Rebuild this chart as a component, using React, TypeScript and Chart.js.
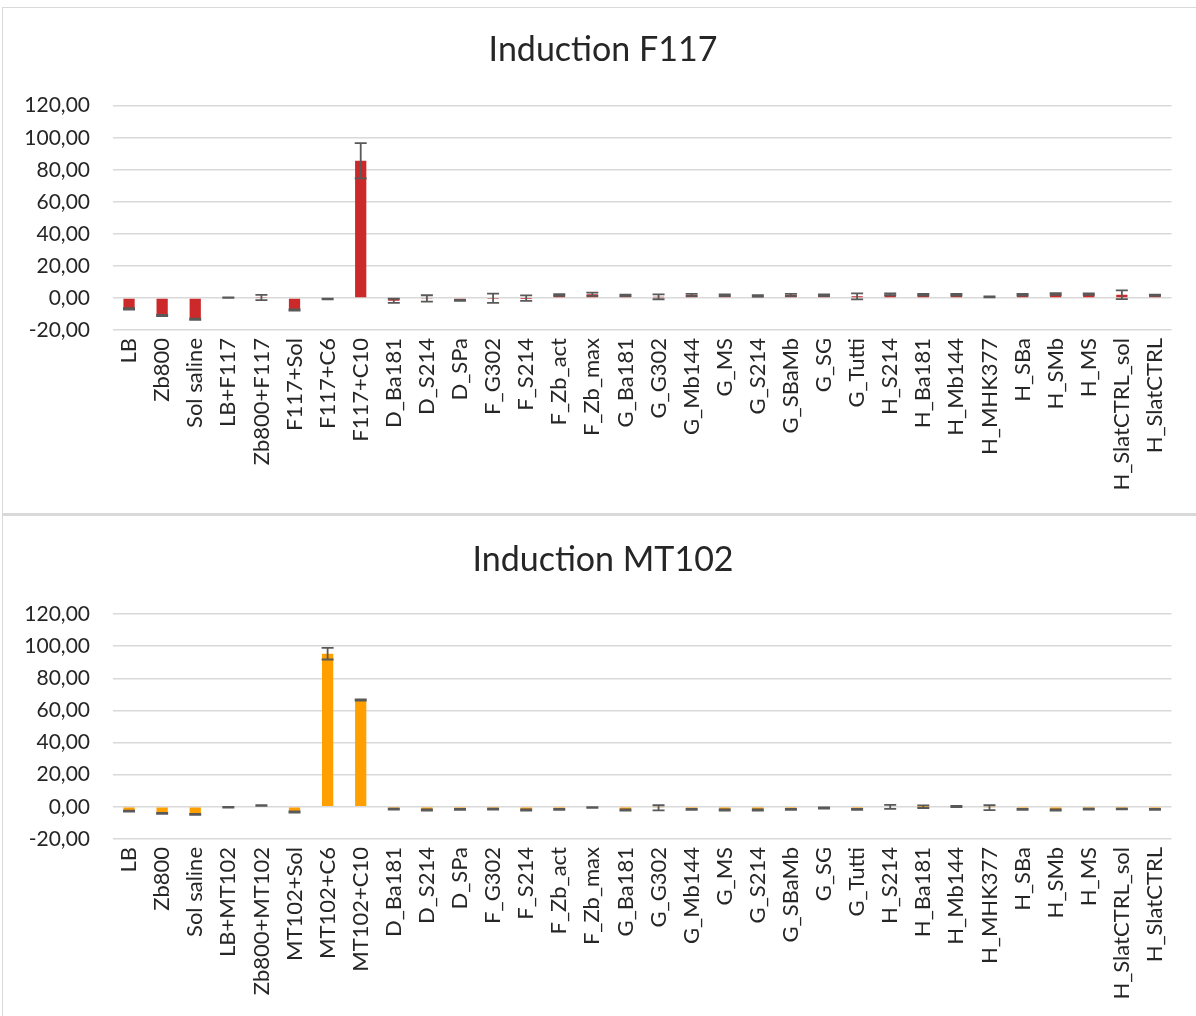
import React, { useEffect, useRef } from 'react';
import { Chart, registerables } from 'chart.js';

Chart.register(...registerables);

const titleF117 = 'Induction F117';
const titleMT102 = 'Induction MT102';

const commonCategories = [
  'D_Ba181', 'D_S214', 'D_SPa', 'F_G302', 'F_S214', 'F_Zb_act', 'F_Zb_max',
  'G_Ba181', 'G_G302', 'G_Mb144', 'G_MS', 'G_S214', 'G_SBaMb', 'G_SG', 'G_Tutti',
  'H_S214', 'H_Ba181', 'H_Mb144', 'H_MHK377', 'H_SBa', 'H_SMb', 'H_MS',
  'H_SlatCTRL_sol', 'H_SlatCTRL',
];

const categoriesF117 = [
  'LB', 'Zb800', 'Sol saline', 'LB+F117', 'Zb800+F117', 'F117+Sol', 'F117+C6', 'F117+C10',
  ...commonCategories,
];
const valuesF117 = [
  -6.8, -11.0, -13.3, 0.2, 0.3, -7.5, -0.7, 85.7,
  -1.8, -0.3, -1.5, -0.2, -0.1, 1.8, 2.3,
  1.6, 0.7, 1.8, 1.7, 1.3, 1.9, 1.7, 1.0,
  2.2, 2.0, 2.0, 0.7, 2.0, 2.5, 2.4, 2.0, 1.7,
];
const errorsF117 = [
  0.4, 0.4, 0.4, 0.2, 1.6, 0.4, 0.2, 11.0,
  1.3, 2.0, 0.3, 2.9, 1.7, 0.5, 1.0,
  0.5, 1.5, 0.7, 0.5, 0.4, 0.7, 0.5, 1.9,
  0.6, 0.5, 0.5, 0.3, 0.5, 0.5, 0.5, 2.7, 0.4,
];

const categoriesMT102 = [
  'LB', 'Zb800', 'Sol saline', 'LB+MT102', 'Zb800+MT102', 'MT102+Sol', 'MT102+C6', 'MT102+C10',
  ...commonCategories,
];
const valuesMT102 = [
  -2.6, -4.0, -4.7, -0.3, 0.9, -3.2, 95.3, 66.5,
  -1.4, -2.0, -1.5, -1.4, -2.0, -1.6, -0.4,
  -2.0, -0.6, -1.6, -2.0, -2.0, -1.6, -0.7, -1.6,
  0.0, 0.1, 0.2, -0.5, -1.6, -2.0, -1.4, -1.3, -1.6,
];
const errorsMT102 = [
  0.3, 0.3, 0.3, 0.2, 0.2, 0.3, 3.6, 0.4,
  0.3, 0.4, 0.3, 0.3, 0.4, 0.3, 0.2,
  0.4, 1.6, 0.3, 0.4, 0.4, 0.3, 0.4, 0.3,
  1.2, 0.8, 0.4, 1.5, 0.3, 0.4, 0.3, 0.2, 0.3,
];

const yMin = -20;
const yMax = 120;
const yStep = 20;

const RED = '#CC2A2A';
const ORANGE = '#FFA000';
const ERR_COLOR = '#595959';
const GRID = '#D9D9D9';
const TEXT = '#262626';
const FONT = 'Lato';

const errorBarPlugin = {
  id: 'errorBars',
  afterDatasetsDraw(chart: any) {
    const ctx = chart.ctx;
    const yScale = chart.scales.y;
    chart.data.datasets.forEach((ds: any, di: number) => {
      const meta = chart.getDatasetMeta(di);
      const errs: number[] = ds.errors || [];
      meta.data.forEach((bar: any, i: number) => {
        const v = ds.data[i];
        const e = errs[i] || 0;
        const x = bar.x;
        const yTop = yScale.getPixelForValue(v + e);
        const yBot = yScale.getPixelForValue(v - e);
        const half = 6;
        ctx.save();
        ctx.strokeStyle = ERR_COLOR;
        ctx.lineWidth = 1.8;
        ctx.beginPath();
        ctx.moveTo(x, yTop);
        ctx.lineTo(x, yBot);
        ctx.moveTo(x - half, yTop);
        ctx.lineTo(x + half, yTop);
        ctx.moveTo(x - half, yBot);
        ctx.lineTo(x + half, yBot);
        ctx.stroke();
        ctx.restore();
      });
    });
  },
};

type PanelProps = {
  title: string;
  labels: string[];
  values: number[];
  errors: number[];
  color: string;
  left: number;
  top: number;
  width: number;
  height: number;
  chartTop: number;
  chartBottom: number;
  chartLeft: number;
  chartRight: number;
  titleCenter: number;
  titleCenterX: number;
};

function Panel(p: PanelProps) {
  const ref = useRef<HTMLCanvasElement | null>(null);
  useEffect(() => {
    if (!ref.current) return;
    const titleSize = 34;
    const titleLH = 1.2;
    const titleH = titleSize * titleLH;
    const padTop = p.titleCenter - titleH / 2;
    const padBottom = p.chartTop - padTop - titleH;
    const padRight = p.width - p.chartRight;
    // title spans [padLeft, width - padRight]; pick padLeft so its centre is titleCenterX
    const padLeft = 2 * p.titleCenterX - (p.width - padRight);
    const chart = new Chart(ref.current, {
      type: 'bar',
      data: {
        labels: p.labels,
        datasets: [
          {
            data: p.values,
            errors: p.errors,
            backgroundColor: p.color,
            borderWidth: 0,
            barPercentage: 0.34,
            categoryPercentage: 1,
          } as any,
        ],
      },
      options: {
        responsive: false,
        animation: false,
        devicePixelRatio: 1,
        layout: { padding: { left: padLeft, top: 0, right: padRight, bottom: 0 } },
        plugins: {
          legend: { display: false },
          tooltip: { enabled: false },
          title: {
            display: true,
            text: p.title,
            color: TEXT,
            font: { family: FONT, size: titleSize, weight: 'normal', lineHeight: titleLH },
            padding: { top: padTop, bottom: padBottom },
          },
        },
        scales: {
          x: {
            type: 'category',
            grid: { display: false, drawTicks: false },
            border: { display: false },
            ticks: {
              autoSkip: false,
              maxRotation: 90,
              minRotation: 90,
              padding: 8,
              color: TEXT,
              font: { family: FONT, size: 22 },
            },
            afterFit: (scale: any) => {
              scale.height = p.height - p.chartBottom;
            },
          },
          y: {
            min: yMin,
            max: yMax,
            grid: { color: GRID, lineWidth: 1.5, drawTicks: false },
            border: { display: false },
            ticks: {
              stepSize: yStep,
              padding: p.chartLeft - 86,
              color: TEXT,
              font: { family: FONT, size: 21 },
              callback: (v: any) => Number(v).toFixed(2).replace('.', ','),
            },
            afterFit: (scale: any) => {
              scale.width = p.chartLeft - padLeft;
              // let the tick labels extend into the left padding without being clipped
              scale._computeLabelArea = () => undefined;
            },
          },
        },
      },
      plugins: [errorBarPlugin],
    });
    return () => chart.destroy();
  }, []);
  return (
    <canvas
      ref={ref}
      width={p.width}
      height={p.height}
      style={{ position: 'absolute', left: p.left, top: p.top, width: p.width, height: p.height }}
    />
  );
}

export default function App() {
  return (
    <div
      style={{
        position: 'fixed',
        left: 0,
        top: 0,
        width: 1196,
        height: 1016,
        overflow: 'hidden',
        background: '#ffffff',
      }}
    >
      <div
        style={{
          position: 'absolute',
          left: 2,
          top: 7,
          width: 1230,
          height: 507,
          border: '1px solid #D9D9D9',
          boxSizing: 'border-box',
        }}
      />
      <div
        style={{
          position: 'absolute',
          left: 2,
          top: 514,
          width: 1230,
          height: 600,
          borderTop: '2px solid #D9D9D9',
          borderLeft: '1px solid #D9D9D9',
          boxSizing: 'border-box',
        }}
      />
      <Panel
        title={titleF117}
        labels={categoriesF117}
        values={valuesF117}
        errors={errorsF117}
        color={RED}
        left={4}
        top={8}
        width={1200}
        height={505}
        chartTop={97.7}
        chartBottom={322}
        chartLeft={108.5}
        chartRight={1167.5}
        titleCenter={42}
        titleCenterX={599}
      />
      <Panel
        title={titleMT102}
        labels={categoriesMT102}
        values={valuesMT102}
        errors={errorsMT102}
        color={ORANGE}
        left={4}
        top={516}
        width={1200}
        height={500}
        chartTop={98}
        chartBottom={323}
        chartLeft={108.5}
        chartRight={1167.5}
        titleCenter={44}
        titleCenterX={599}
      />
    </div>
  );
}
